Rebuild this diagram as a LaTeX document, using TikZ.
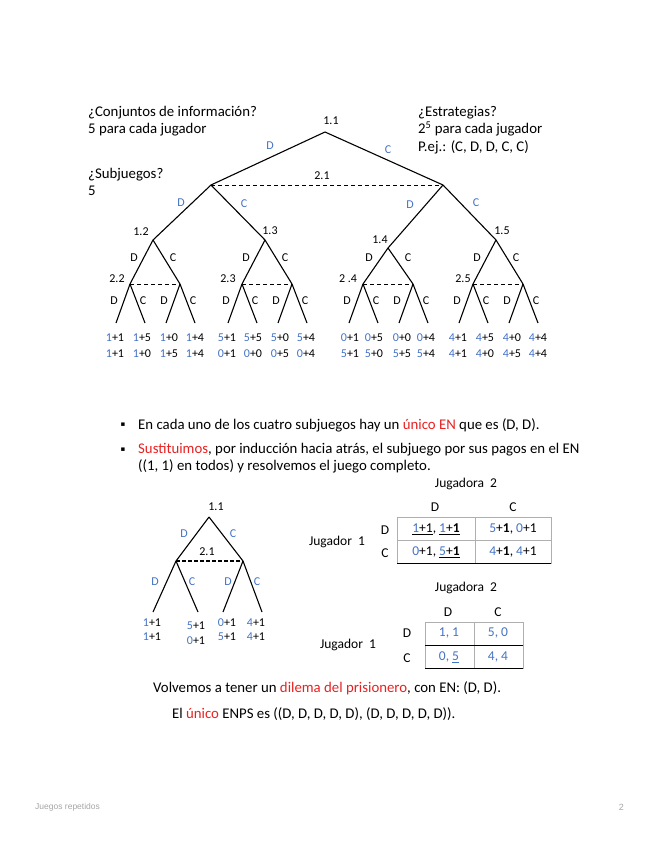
\documentclass[tikz,border=0pt]{standalone}
\usepackage{fontspec}
\setmainfont{Carlito}
\newfontfamily\footfont{Liberation Sans}
\newfontfamily\bulletfont{DejaVu Sans}
\definecolor{pblue}{RGB}{68,114,196}
\definecolor{pred}{RGB}{232,32,32}
\definecolor{pfoot}{RGB}{165,165,165}
\definecolor{pgrid}{RGB}{175,175,175}
\newcommand{\bl}[1]{\textcolor{pblue}{#1}}
\newcommand{\rd}[1]{\textcolor{pred}{#1}}
\tikzset{
  branch/.style={line width=1.1pt},
  infoset/.style={line width=0.8pt, dash pattern=on 4pt off 3pt},
  lab/.style={inner sep=0pt, font=\fontsize{12}{14}\selectfont},
  blab/.style={lab, text=pblue},
  tlab/.style={inner sep=0pt, font=\fontsize{13.5}{16}\selectfont},
  txt/.style={anchor=west, inner sep=0pt, align=left, font=\fontsize{14.8}{17.5}\selectfont},
  grid/.style={draw=pgrid, line width=0.7pt},
}
\begin{document}
\begin{tikzpicture}[x=1pt, y=-1pt]
    \useasboundingbox (0,0) rectangle (655,848);
    % Questions around the tree
    \node[txt] (qinfo) at (88,121) {¿Conjuntos de información?\\5 para cada jugador};
    \node[txt] (qsub) at (88,182) {¿Subjuegos?\\5};
    \node[txt] (qstrat) at (418,130) {¿Estrategias?\\2\textsuperscript{5} para cada jugador\\P.ej.: (C, D, D, C, C)};
    % Full game tree
    \coordinate (n11) at (325,132);
    \coordinate (n21a) at (211,185);
    \coordinate (n21b) at (443,185);
    \coordinate (n12) at (153,240);
    \coordinate (n13) at (265,240);
    \coordinate (n14) at (388,248);
    \coordinate (n15) at (496,240);
    \foreach \p/\x in {22/130, 23/242, 24/363, 25/473}{
        \coordinate (a\p) at (\x,284);
        \coordinate (b\p) at (\x+50,284);
    }
    \draw[branch] (n11) -- (n21a) (n11) -- (n21b);
    \draw[branch] (n21a) -- (n12) (n21a) -- (n13) (n21b) -- (n14) (n21b) -- (n15);
    \draw[branch] (n12) -- (a22) (n12) -- (b22) (n13) -- (a23) (n13) -- (b23);
    \draw[branch] (n14) -- (a24) (n14) -- (b24) (n15) -- (a25) (n15) -- (b25);
    \draw[infoset] (n21a) -- (n21b);
    \foreach \p in {22,23,24,25}
        \draw[infoset, line width=0.6pt] (a\p) -- (b\p);
    % Last moves of player 2
    \foreach \p in {a22,b22,a23,b23,a24,b24,a25,b25}{
        \draw[branch] (\p) -- ++(-14,39) coordinate (\p-l);
        \draw[branch] (\p) -- ++(15,39) coordinate (\p-r);
        \path (\p) ++(-16,17) node[lab] (\p-d) {D};
        \path (\p) ++(13,17) node[lab] (\p-c) {C};
    }
    % Labels
    \node[lab] (l11) at (331,121) {1.1};
    \node[lab] (l21) at (322,176) {2.1};
    \node[blab] (d11) at (270,146) {D};
    \node[blab] (c11) at (388,150) {C};
    \node[blab] (d21a) at (181,203) {D};
    \node[blab] (c21a) at (244,204) {C};
    \node[blab] (d21b) at (410,205) {D};
    \node[blab] (c21b) at (476,203) {C};
    \node[lab] (l12) at (141,232) {1.2};
    \node[lab] (l13) at (270,231) {1.3};
    \node[lab] (l14) at (380,240) {1.4};
    \node[lab] (l15) at (502,231) {1.5};
    \foreach \p/\x in {n12/153, n13/265, n14/388, n15/496}{
        \node[lab] (\p-d) at (\x-19,258) {D};
        \node[lab] (\p-c) at (\x+20,258) {C};
    }
    \node[lab] (l22) at (117,279) {2.2};
    \node[lab] (l23) at (228,279) {2.3};
    \node[lab] (l24) at (348,279) {2 .4};
    \node[lab] (l25) at (463,279) {2.5};
    % Payoffs
    \foreach \x/\a/\b/\c/\d [count=\i] in {115/1/1/1/1, 142/1/5/1/0, 169/1/0/1/5, 195/1/4/1/4,
        227/5/1/0/1, 253/5/5/0/0, 280/5/0/0/5, 306/5/4/0/4,
        350/0/1/5/1, 374/0/5/5/0, 402/0/0/5/5, 426/0/4/5/4,
        458/4/1/4/1, 485/4/5/4/0, 512/4/0/4/5, 538/4/4/4/4}{
        \node[lab] (p\i) at (\x,338) {\bl{\a}+\b};
        \node[lab] (q\i) at (\x,354) {\bl{\c}+\d};
    }
    % Bullets
    \node[inner sep=0pt, font=\bulletfont\fontsize{7}{8}\selectfont] (b1) at (123,425) {▪};
    \node[txt] (t1) at (138,425) {En cada uno de los cuatro subjuegos hay un \rd{único EN} que es (D, D).};
    \node[inner sep=0pt, font=\bulletfont\fontsize{7}{8}\selectfont] (b2) at (123,450) {▪};
    \node[txt, font=\fontsize{14.8}{16.5}\selectfont] (t2) at (138,458) {\rd{Sustituimos}, por inducción hacia atrás, el subjuego por sus pagos en el EN\\((1, 1) en todos) y resolvemos el juego completo.};
    % Reduced tree
    \coordinate (m11) at (209,517);
    \coordinate (m21a) at (176,561);
    \coordinate (m21b) at (243,561);
    \draw[branch] (m11) -- (m21a) (m11) -- (m21b);
    \draw[line width=1.5pt, dash pattern=on 3.5pt off 2.5pt] (m21a) -- (m21b);
    \draw[branch] (m21a) -- ++(-23,51) coordinate (m-l1);
    \draw[branch] (m21a) -- ++(22,51) coordinate (m-l2);
    \draw[branch] (m21b) -- ++(-20,51) coordinate (m-l3);
    \draw[branch] (m21b) -- ++(19,51) coordinate (m-l4);
    \node[lab] (k11) at (216,507) {1.1};
    \node[lab] (k21) at (207,552) {2.1};
    \node[blab] (kd1) at (184,534) {D};
    \node[blab] (kc1) at (233,534) {C};
    \node[blab] (kd2) at (155,582) {D};
    \node[blab] (kc2) at (192,582) {C};
    \node[blab] (kd3) at (228,582) {D};
    \node[blab] (kc3) at (257,582) {C};
    \node[lab] (r1) at (152,623) {\bl{1}+1};
    \node[lab] (s1) at (152,637) {\bl{1}+1};
    \node[lab] (r2) at (196,626) {\bl{5}+1};
    \node[lab] (s2) at (196,641) {\bl{0}+1};
    \node[lab] (r3) at (227,623) {\bl{0}+1};
    \node[lab] (s3) at (227,637) {\bl{5}+1};
    \node[lab] (r4) at (256,623) {\bl{4}+1};
    \node[lab] (s4) at (256,637) {\bl{4}+1};
    % Payoff table with the +1
    \node[tlab] (ja) at (466,484) {Jugadora~~2};
    \node[tlab] (jad) at (435,507) {D};
    \node[tlab] (jac) at (513,507) {C};
    \node[tlab] (jb) at (337,542) {Jugador~~1};
    \node[tlab] (jbd) at (385,530) {D};
    \node[tlab] (jbc) at (385,553) {C};
    \draw[grid] (397,517) rectangle (551,563);
    \draw[grid] (397,540) -- (551,540);
    \draw[grid] (475,517) -- (475,563);
    \draw[line width=0.7pt] (397,563) -- (551,563);
    \node[tlab] (c11) at (436,529) {\underline{\bl{1}+1}, \underline{\bl{1}+\textbf{1}}};
    \node[tlab] (c12) at (513,529) {\bl{5}+\textbf{1}, \bl{0}+1};
    \node[tlab] (c21) at (436,552) {\bl{0}+1, \underline{\bl{5}+\textbf{1}}};
    \node[tlab] (c22) at (513,552) {\bl{4}+\textbf{1}, \bl{4}+1};
    % Prisoner's dilemma again
    \node[tlab] (ka) at (466,588) {Jugadora~~2};
    \node[tlab] (kad) at (448,612) {D};
    \node[tlab] (kac) at (498,612) {C};
    \node[tlab] (kb) at (348,645) {Jugador~~1};
    \node[tlab] (kbd) at (407,633) {D};
    \node[tlab] (kbc) at (407,658) {C};
    \draw[grid] (425,622) rectangle (523,668);
    \draw[grid] (474,622) -- (474,668);
    \draw[line width=0.7pt] (425,645) -- (523,645) (425,668) -- (523,668);
    \node[tlab, text=pblue] (e11) at (449,633) {1, 1};
    \node[tlab, text=pblue] (e12) at (498,633) {5, 0};
    \node[tlab, text=pblue] (e21) at (449,657) {0, \underline{5}};
    \node[tlab, text=pblue] (e22) at (498,657) {4, 4};
    % Conclusion
    \node[txt] (v1) at (153,688) {Volvemos a tener un \rd{dilema del prisionero}, con EN: (D, D).};
    \node[txt] (v2) at (172,714) {El \rd{único} ENPS es ((D, D, D, D, D), (D, D, D, D, D)).};
    % Footer
    \node[anchor=west, inner sep=0pt, text=pfoot, font=\footfont\fontsize{8.5}{10}\selectfont] (foot) at (35,807) {Juegos repetidos};
    \node[anchor=east, inner sep=0pt, text=pfoot, font=\footfont\fontsize{9}{10}\selectfont] (page) at (624,807) {2};
\end{tikzpicture}
\end{document}
